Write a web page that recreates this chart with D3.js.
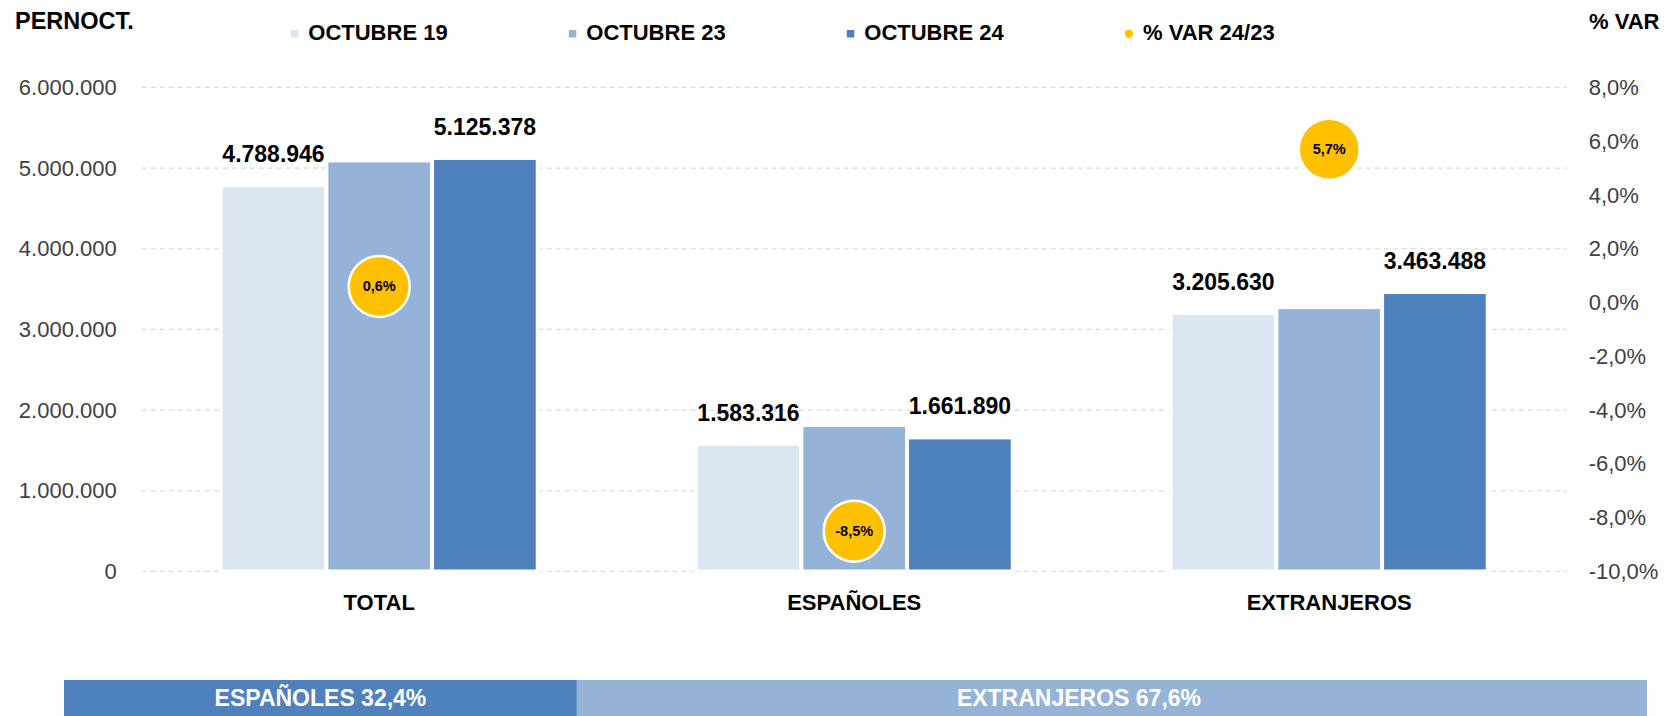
<!DOCTYPE html>
<html>
<head>
<meta charset="utf-8">
<script src="https://cdn.jsdelivr.net/npm/d3@7"></script>
<style>
  html, body { margin: 0; padding: 0; background: #fff; }
  svg { display: block; font-family: "Liberation Sans", Arial, sans-serif; }
</style>
</head>
<body>
<svg id="chart" width="1664" height="716"></svg>
<script>
// ---- data ----
const categories = ["TOTAL", "ESPAÑOLES", "EXTRANJEROS"];
const seriesNames = ["OCTUBRE 19", "OCTUBRE 23", "OCTUBRE 24"];
const octubre19 = [4788946, 1583316, 3205630];
const octubre23 = [5094809, 1816273, 3276720];
const octubre24 = [5125378, 1661890, 3463488];
const varPct = [0.006, -0.085, 0.057];
const varLabels = ["0,6%", "-8,5%", "5,7%"];
const leftTicks = [0, 1000000, 2000000, 3000000, 4000000, 5000000, 6000000];
const rightTicks = [-0.10, -0.08, -0.06, -0.04, -0.02, 0, 0.02, 0.04, 0.06, 0.08];
const shareNames = ["ESPAÑOLES", "EXTRANJEROS"];
const shareValues = [32.4, 67.6];
const shareLabels = ["ESPAÑOLES 32,4%", "EXTRANJEROS 67,6%"];

const colors = ["#DCE6F2", "#95B3D7", "#4F81BD"];
const yellow = "#FFC000";

const locale = d3.formatLocale({decimal: ",", thousands: ".", grouping: [3], currency: ["", "€"], minus: "-"});
const fmtNum = locale.format(",d");
const fmtPct = locale.format(".1%");

const svg = d3.select("#chart");
const plotLeft = 141.7, plotRight = 1566.7, plotTop = 87.4, plotBottom = 571.5;

const x0 = d3.scaleBand().domain(categories).range([plotLeft, plotRight]).padding(0);
const groupW = 317.1;
const x1 = d3.scaleBand().domain(seriesNames).range([-groupW / 2, groupW / 2]).padding(0);
const y = d3.scaleLinear().domain([0, 6000000]).range([plotBottom, plotTop]);
const yR = d3.scaleLinear().domain([-0.10, 0.08]).range([plotBottom, plotTop]);

// gridlines
svg.append("g").selectAll("line").data(leftTicks).join("line")
  .attr("x1", plotLeft).attr("x2", plotRight)
  .attr("y1", d => y(d)).attr("y2", d => y(d))
  .attr("stroke", "#D9D9D9").attr("stroke-width", 1.2).attr("stroke-dasharray", "5,4");

// left axis
const gL = svg.append("g").attr("transform", `translate(${plotLeft},0)`)
  .call(d3.axisLeft(y).tickValues(leftTicks).tickFormat(fmtNum).tickSize(0).tickPadding(25));
gL.select(".domain").remove();
gL.selectAll("text").attr("font-size", 22).attr("fill", "#404040")
  .attr("font-family", "'Liberation Sans', Arial, sans-serif");

// right axis
const gR = svg.append("g").attr("transform", `translate(${plotRight},0)`)
  .call(d3.axisRight(yR).tickValues(rightTicks).tickFormat(fmtPct).tickSize(0).tickPadding(22));
gR.select(".domain").remove();
gR.selectAll("text").attr("font-size", 22).attr("fill", "#404040")
  .attr("font-family", "'Liberation Sans', Arial, sans-serif");

// bars
const seriesData = [octubre19, octubre23, octubre24];
const groups = svg.append("g").selectAll("g").data(categories).join("g")
  .attr("transform", d => `translate(${x0(d) + x0.bandwidth() / 2},0)`);
groups.each(function(cat, ci) {
  const g = d3.select(this);
  g.selectAll("rect").data(seriesNames).join("rect")
    .attr("x", s => x1(s))
    .attr("width", x1.bandwidth())
    .attr("y", (s, si) => y(seriesData[si][ci]))
    .attr("height", (s, si) => plotBottom - y(seriesData[si][ci]))
    .attr("fill", (s, si) => colors[si])
    .attr("stroke", "#fff").attr("stroke-width", 4);
  // value labels on first and last series
  [0, 2].forEach(si => {
    g.append("text")
      .attr("x", x1(seriesNames[si]) + x1.bandwidth() / 2)
      .attr("y", y(seriesData[si][ci]) - 23)
      .attr("text-anchor", "middle")
      .attr("font-size", 23).attr("font-weight", "bold").attr("fill", "#000")
      .text(fmtNum(seriesData[si][ci]));
  });
  // category label
  g.append("text").attr("x", 0).attr("y", 610)
    .attr("text-anchor", "middle").attr("font-size", 22).attr("font-weight", "bold").attr("fill", "#000")
    .text(cat);
  // variation bubble
  g.append("circle").attr("cx", 0).attr("cy", yR(varPct[ci])).attr("r", 30.5)
    .attr("fill", yellow).attr("stroke", "#fff").attr("stroke-width", 2.5);
  g.append("text").attr("x", 0).attr("y", yR(varPct[ci]))
    .attr("dy", "0.35em").attr("text-anchor", "middle")
    .attr("font-size", 14.5).attr("font-weight", "bold").attr("fill", "#000")
    .text(varLabels[ci]);
});

// titles
svg.append("text").attr("x", 15).attr("y", 29).attr("font-size", 23.5).attr("font-weight", "bold")
  .attr("fill", "#000").text("PERNOCT.");
svg.append("text").attr("x", 1589).attr("y", 29).attr("font-size", 22).attr("font-weight", "bold")
  .attr("fill", "#000").text("% VAR");

// legend
const legendX = [308.3, 586.3, 864.3];
seriesNames.forEach((s, i) => {
  svg.append("rect").attr("x", legendX[i] - 17.5).attr("y", 30).attr("width", 7.5).attr("height", 7.5)
    .attr("fill", colors[i]);
  svg.append("text").attr("x", legendX[i]).attr("y", 39.5).attr("font-size", 22).attr("font-weight", "bold")
    .attr("fill", "#000").text(s);
});
svg.append("circle").attr("cx", 1129).attr("cy", 33.8).attr("r", 4.2).attr("fill", yellow);
svg.append("text").attr("x", 1143).attr("y", 39.5).attr("font-size", 22).attr("font-weight", "bold")
  .attr("fill", "#000").text("% VAR 24/23");

// bottom share bar
const xs = d3.scaleLinear().domain([0, 100]).range([64, 1647]);
const shareColors = ["#4F81BD", "#95B3D7"];
const starts = [0, shareValues[0]];
const labelShift = [0, -33];
shareValues.forEach((v, i) => {
  svg.append("rect").attr("x", xs(starts[i])).attr("y", 680)
    .attr("width", xs(starts[i] + v) - xs(starts[i])).attr("height", 36).attr("fill", shareColors[i]);
  svg.append("text").attr("x", (xs(starts[i]) + xs(starts[i] + v)) / 2 + labelShift[i]).attr("y", 706)
    .attr("text-anchor", "middle").attr("font-size", 23).attr("font-weight", "bold").attr("fill", "#fff")
    .text(shareLabels[i]);
});
</script>
</body>
</html>
